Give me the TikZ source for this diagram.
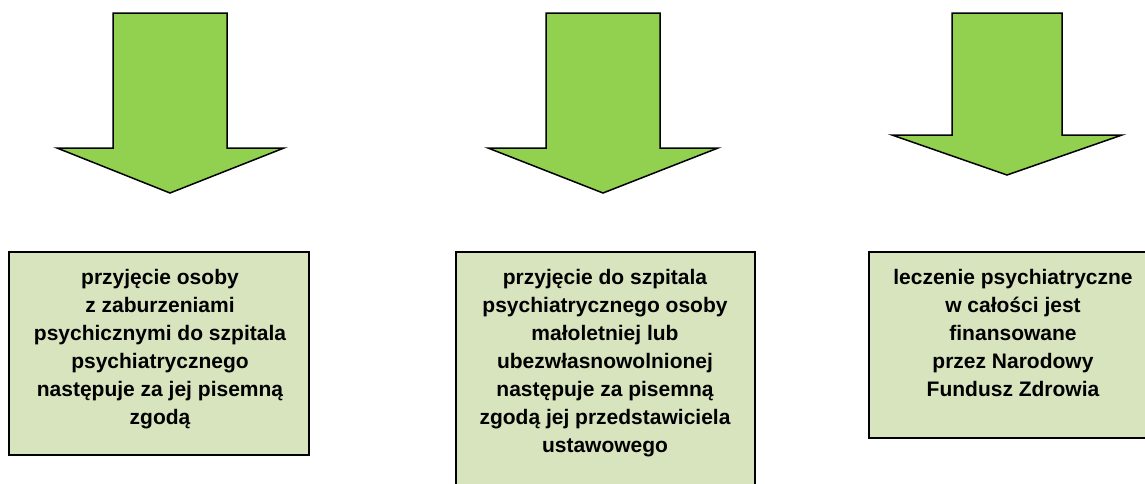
\documentclass[tikz,border=0pt]{standalone}
\usepackage{fontspec}
\setmainfont{Liberation Sans}
\definecolor{arrowgreen}{HTML}{92D050}
\definecolor{boxgreen}{HTML}{D7E4BD}
\begin{document}
\begin{tikzpicture}[x=1pt,y=-1pt,
  greenarrow/.style={draw=black,line width=1.5pt,fill=arrowgreen,line join=miter},
  infobox/.style={draw=black,line width=1.5pt,fill=boxgreen},
  boxtext/.style={anchor=base,inner sep=0pt,align=center,
    font=\fontsize{21}{28}\selectfont\bfseries}]
\useasboundingbox (0,0) rectangle (1145,483);
\clip (0,0) rectangle (1145,483);
% arrows
\draw[greenarrow] (113,13) -- (227,13) -- (227,148) -- (284,148) -- (170,193) -- (57,148) -- (113,148) -- cycle;
\draw[greenarrow] (546,13) -- (660,13) -- (660,148) -- (718,148) -- (603,193) -- (488,148) -- (546,148) -- cycle;
\draw[greenarrow] (952,13) -- (1062,13) -- (1062,135) -- (1122,135) -- (1007,175) -- (892,135) -- (952,135) -- cycle;
% boxes
\draw[infobox] (9,252) rectangle (309,455);
\draw[infobox] (456,252) rectangle (755,492);
\draw[infobox] (869,252) rectangle (1160,438);
% texts (base anchor = baseline of last line)
\node[boxtext] (t1) at (160,424) {przyjęcie osoby\\z zaburzeniami\\psychicznymi do szpitala\\psychiatrycznego\\następuje za jej pisemną\\zgodą};
\node[boxtext] (t2) at (605,452) {przyjęcie do szpitala\\psychiatrycznego osoby\\małoletniej lub\\ubezwłasnowolnionej\\następuje za pisemną\\zgodą jej przedstawiciela\\ustawowego};
\node[boxtext] (t3) at (1013,396) {leczenie psychiatryczne\\w całości jest\\finansowane\\przez Narodowy\\Fundusz Zdrowia};
\end{tikzpicture}
\end{document}
